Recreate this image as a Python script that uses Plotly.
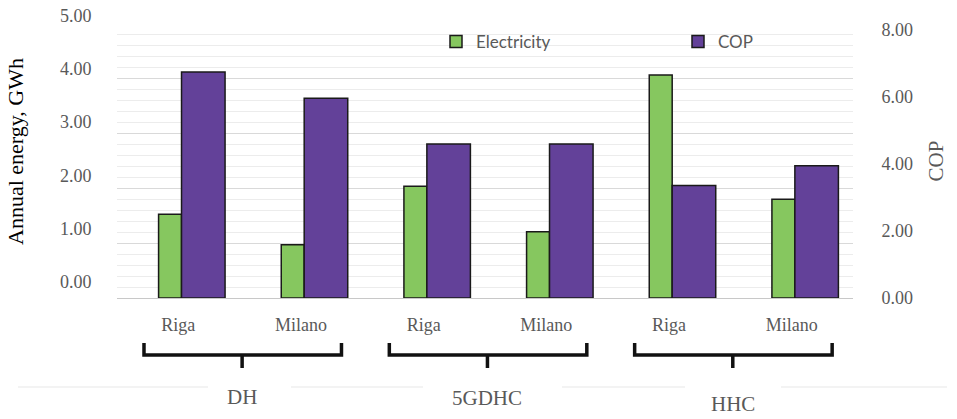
import plotly.graph_objects as go

# ---- data ----
categories = ["Riga", "Milano", "Riga", "Milano", "Riga", "Milano"]
groups = ["DH", "5GDHC", "HHC"]
electricity = [1.53, 0.97, 2.04, 1.21, 4.07, 1.80]   # GWh
cop = [6.75, 5.96, 4.60, 4.60, 3.36, 3.95]
left_ticks = [0, 1, 2, 3, 4, 5]
right_ticks = [0, 2, 4, 6, 8]

xpos = list(range(len(categories)))

# ---- layout helpers (pixel geometry) ----
W, H = 957, 419
ML, MR, MT, MB = 117, 104, 5, 121
PH = H - MT - MB          # paper height in px
PW = W - ML - MR
def py(p):                # pixel y -> paper y
    return (H - MB - p) / PH
def px(p):                # pixel x -> paper x
    return (p - ML) / PW

SERIF = "Liberation Serif, Times New Roman, serif"
GREY = "#595959"

fig = go.Figure()
fig.add_trace(go.Bar(
    x=xpos, y=electricity, name="Electricity", yaxis="y",
    width=0.187, offset=-0.161,
    marker=dict(color="#86C75F", line=dict(color="#1a1a1a", width=1.5)),
    legend="legend",
))
fig.add_trace(go.Bar(
    x=xpos, y=cop, name="COP", yaxis="y2",
    width=0.355, offset=0.026,
    marker=dict(color="#634199", line=dict(color="#1a1a1a", width=1.5)),
    legend="legend2",
))
# invisible trace to carry the left label axis
fig.add_trace(go.Scatter(
    x=[xpos[0]], y=[left_ticks[0]], yaxis="y3", mode="markers",
    marker=dict(opacity=0), showlegend=False, hoverinfo="skip",
))

shapes = []
annotations = []
for g, name in enumerate(groups):
    x0, x1, xs = 2 * g - 0.28, 2 * g + 1.33, 2 * g + 0.52
    yh, ym, yb = py(343), py(355), py(368)
    shapes.append(dict(
        type="path", xref="x", yref="paper",
        path=f"M {x0},{yh} L {x0},{ym} L {x1},{ym} L {x1},{yh} M {xs},{ym} L {xs},{yb}",
        line=dict(color="#111111", width=3.5),
    ))
    annotations.append(dict(
        x=xs, y=py([397, 398, 404][g]), xref="x", yref="paper",
        text=name, showarrow=False, xanchor="center", yanchor="middle",
        font=dict(family=SERIF, size=21, color=GREY),
    ))

for a, b in [(18, 208), (291, 423), (562, 685), (781, 947)]:
    shapes.append(dict(type="line", xref="paper", yref="paper",
                       x0=px(a), x1=px(b), y0=py(387), y1=py(387),
                       line=dict(color="#efefef", width=1.5)))

fig.update_layout(
    width=W, height=H, autosize=False,
    margin=dict(l=ML, r=MR, t=MT, b=MB, autoexpand=False),
    paper_bgcolor="white", plot_bgcolor="rgba(0,0,0,0)",
    barmode="overlay",
    xaxis=dict(
        range=[-0.5, 5.5], tickvals=xpos, ticktext=categories,
        ticks="outside", ticklen=10, tickcolor="rgba(0,0,0,0)",
        showline=True, linecolor="#c8c8c8", linewidth=1,
        showgrid=False, zeroline=False, anchor="y", automargin=False,
        tickfont=dict(family=SERIF, size=18, color=GREY),
    ),
    yaxis=dict(
        domain=[0, py(24)], range=[0, 5], dtick=1, automargin=False,
        showticklabels=False, showgrid=True, gridcolor="#d9d9d9", gridwidth=1,
        minor=dict(dtick=0.2, showgrid=True, gridcolor="#ececec", gridwidth=1),
        zeroline=False, showline=False, ticks="",
    ),
    yaxis2=dict(
        overlaying="y", side="right", range=[0, 8.18], automargin=False,
        tickvals=right_ticks, tickformat=".2f",
        showgrid=False, zeroline=False, showline=False,
        ticks="outside", ticklen=24, tickcolor="rgba(0,0,0,0)",
        tickfont=dict(family=SERIF, size=18, color=GREY),
        title=dict(text="COP", standoff=16,
                   font=dict(family=SERIF, size=21, color=GREY)),
    ),
    yaxis3=dict(
        domain=[0, 1], anchor="x", range=[-0.306, 5.20], automargin=False,
        tickvals=left_ticks, tickformat=".2f",
        showgrid=False, zeroline=False, showline=False,
        ticks="outside", ticklen=21, tickcolor="rgba(0,0,0,0)",
        tickfont=dict(family=SERIF, size=18, color=GREY),
        title=dict(text="Annual energy, GWh", standoff=30,
                   font=dict(family=SERIF, size=22, color="#000000")),
    ),
    legend=dict(x=px(436), y=py(42), xanchor="left", yanchor="middle",
                bgcolor="rgba(0,0,0,0)",
                font=dict(family="Lato, sans-serif", size=17, color=GREY)),
    legend2=dict(x=px(678), y=py(42), xanchor="left", yanchor="middle",
                 bgcolor="rgba(0,0,0,0)",
                 font=dict(family="Lato, sans-serif", size=17, color=GREY)),
    shapes=shapes,
    annotations=annotations,
)

fig.write_html(
    "out.html",
    config={"displayModeBar": False},
    post_script="document.body.style.margin='0';document.body.style.overflow='hidden';",
)
